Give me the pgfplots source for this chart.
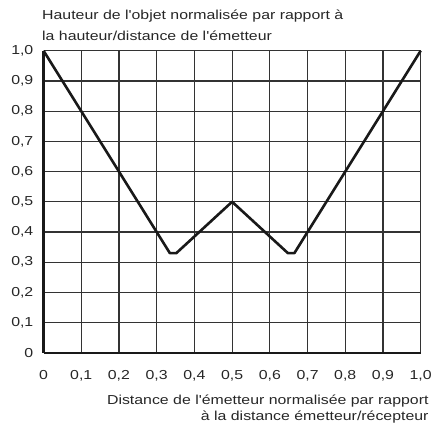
\documentclass[border=0pt]{standalone}
\usepackage{fontspec}
\setmainfont{Liberation Sans}[FakeStretch=1.22, Ligatures=TeXOff]
\usepackage{pgfplots}
\pgfplotsset{compat=1.18}
\begin{document}
\begin{tikzpicture}
\begin{axis}[
  name=ax,
  scale only axis,
  width=377pt, height=302pt,
  xmin=0, xmax=1, ymin=0, ymax=1,
  axis lines=left,
  xtick={0,0.1,...,1.0}, ytick={0,0.1,...,1.0},
  xticklabels={0,{0,1},{0,2},{0,3},{0,4},{0,5},{0,6},{0,7},{0,8},{0,9},{1,0}},
  yticklabels={0,{0,1},{0,2},{0,3},{0,4},{0,5},{0,6},{0,7},{0,8},{0,9},{1,0}},
  /pgf/number format/assume math mode=true,
  tick label style={font=\fontsize{13}{15}\selectfont, text=black!85},
  major tick length=0pt,
  xticklabel style={anchor=north, inner sep=0pt, yshift=-17pt},
  yticklabel style={anchor=east, inner sep=0pt, xshift=-10pt},
  grid=major,
  major grid style={line width=1.2pt, black!80},
  axis line style={line width=2.6pt, black!90, -},
  clip=false,
]
\addplot[line width=2.6pt, black!90, line join=round] coordinates {
  (0,1) (0.335,0.33) (0.352,0.33) (0.5,0.5) (0.648,0.33) (0.665,0.33) (1,1)
};
\end{axis}
\begin{scope}[every node/.style={inner sep=0pt, font=\fontsize{13}{15}\selectfont, text=black!85}]
\node[anchor=base west] at ([xshift=-1.5pt, yshift=31pt]ax.north west) {Hauteur de l'objet normalisée par rapport à};
\node[anchor=base west] at ([xshift=-1.5pt, yshift=10pt]ax.north west) {la hauteur/distance de l'émetteur};
\node[anchor=base east] at ([xshift=8pt, yshift=-52pt]ax.south east) {Distance de l'émetteur normalisée par rapport};
\node[anchor=base east] at ([xshift=8pt, yshift=-68pt]ax.south east) {à la distance émetteur/récepteur};
\end{scope}
\useasboundingbox ([xshift=-43.5pt, yshift=-72.7pt]ax.south west) rectangle ([xshift=12.3pt, yshift=50.7pt]ax.north east);
\end{tikzpicture}
\end{document}
